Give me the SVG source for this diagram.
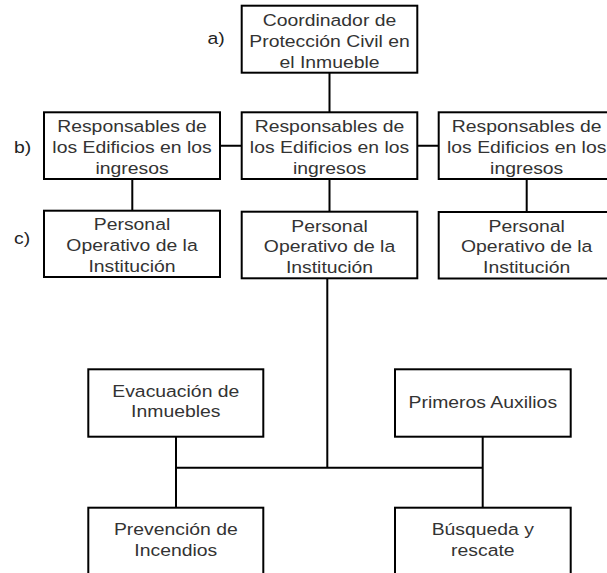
<svg xmlns="http://www.w3.org/2000/svg" width="607" height="573" viewBox="0 0 607 573">
<style>
.box{fill:#ffffff;stroke:#000000;stroke-width:2}
.lbl{font-family:"Liberation Sans",Arial,Helvetica,sans-serif;font-size:17px;fill:#333333;text-anchor:middle}
.tag{font-family:"Liberation Sans",Arial,Helvetica,sans-serif;font-size:17px;fill:#222222;text-anchor:start}
.conn{fill:none;stroke:#000000;stroke-width:2}
</style>
<rect width="607" height="573" fill="#ffffff"/>
<g id="connectors">
<path class="conn" d="M329.5 72.7V112.3M220 145.7H241.7M417.3 145.7H438.7M132.3 179V210.7M329.5 179V211.7M526.7 179V212M327.3 278.3V467.7M176 436.7V507.7M482.7 436.7V507.7M176 467.7H482.7"/>
</g>
<g id="labels">
<text class="tag" transform="translate(207.5 0) scale(1.14 1)"><tspan x="0" y="44">a)</tspan></text>
<text class="tag" transform="translate(14 0) scale(1.14 1)"><tspan x="0" y="153">b)</tspan></text>
<text class="tag" transform="translate(14 0) scale(1.14 1)"><tspan x="0" y="244">c)</tspan></text>
</g>
<g id="coordinador">
<rect class="box" x="241.7" y="5.7" width="175.6" height="67"/>
<text class="lbl" transform="translate(329.5 0) scale(1.14 1)"><tspan x="0" y="26">Coordinador de</tspan><tspan x="0" y="46.8">Protección Civil en</tspan><tspan x="0" y="67.6">el Inmueble</tspan></text>
</g>
<g id="responsables-1">
<rect class="box" x="44" y="112.3" width="176" height="66.7"/>
<text class="lbl" transform="translate(132 0) scale(1.14 1)"><tspan x="0" y="132.5">Responsables de</tspan><tspan x="0" y="153.3">los Edificios en los</tspan><tspan x="0" y="174">ingresos</tspan></text>
</g>
<g id="responsables-2">
<rect class="box" x="241.7" y="112.3" width="175.6" height="66.7"/>
<text class="lbl" transform="translate(329.5 0) scale(1.14 1)"><tspan x="0" y="132.5">Responsables de</tspan><tspan x="0" y="153.3">los Edificios en los</tspan><tspan x="0" y="174">ingresos</tspan></text>
</g>
<g id="responsables-3">
<rect class="box" x="438.7" y="112.3" width="176" height="66.7"/>
<text class="lbl" transform="translate(526.7 0) scale(1.14 1)"><tspan x="0" y="132.5">Responsables de</tspan><tspan x="0" y="153.3">los Edificios en los</tspan><tspan x="0" y="174">ingresos</tspan></text>
</g>
<g id="personal-1">
<rect class="box" x="44" y="210.7" width="176" height="66.3"/>
<text class="lbl" transform="translate(132 0) scale(1.14 1)"><tspan x="0" y="230.5">Personal</tspan><tspan x="0" y="251.3">Operativo de la</tspan><tspan x="0" y="272">Institución</tspan></text>
</g>
<g id="personal-2">
<rect class="box" x="241.7" y="211.7" width="175.6" height="66.6"/>
<text class="lbl" transform="translate(329.5 0) scale(1.14 1)"><tspan x="0" y="231.7">Personal</tspan><tspan x="0" y="252.5">Operativo de la</tspan><tspan x="0" y="273.3">Institución</tspan></text>
</g>
<g id="personal-3">
<rect class="box" x="438.7" y="212" width="176" height="66.5"/>
<text class="lbl" transform="translate(526.7 0) scale(1.14 1)"><tspan x="0" y="231.7">Personal</tspan><tspan x="0" y="252.5">Operativo de la</tspan><tspan x="0" y="273.3">Institución</tspan></text>
</g>
<g id="evacuacion">
<rect class="box" x="88.3" y="369.3" width="175" height="67.4"/>
<text class="lbl" transform="translate(175.8 0) scale(1.14 1)"><tspan x="0" y="396.7">Evacuación de</tspan><tspan x="0" y="417.3">Inmuebles</tspan></text>
</g>
<g id="primeros-auxilios">
<rect class="box" x="395" y="369.3" width="175.7" height="67.4"/>
<text class="lbl" transform="translate(482.8 0) scale(1.14 1)"><tspan x="0" y="407.7">Primeros Auxilios</tspan></text>
</g>
<g id="prevencion">
<rect class="box" x="88.3" y="507.7" width="175" height="80"/>
<text class="lbl" transform="translate(175.8 0) scale(1.14 1)"><tspan x="0" y="535.3">Prevención de</tspan><tspan x="0" y="556">Incendios</tspan></text>
</g>
<g id="busqueda">
<rect class="box" x="395" y="507.7" width="175.7" height="80"/>
<text class="lbl" transform="translate(482.8 0) scale(1.14 1)"><tspan x="0" y="535.5">Búsqueda y</tspan><tspan x="0" y="556">rescate</tspan></text>
</g>
</svg>
